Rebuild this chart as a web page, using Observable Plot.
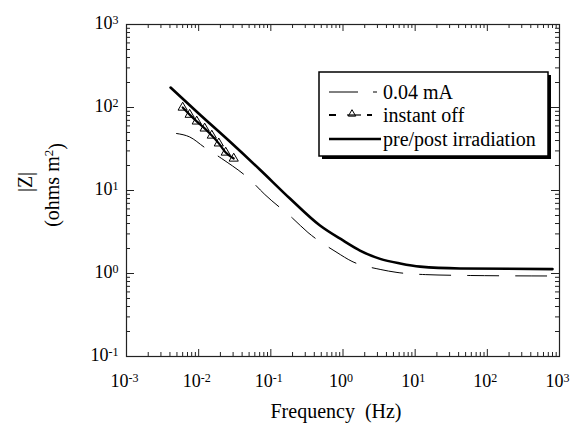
<!DOCTYPE html>
<html><head><meta charset="utf-8">
<script src="https://cdn.jsdelivr.net/npm/d3@7"></script>
<script src="https://cdn.jsdelivr.net/npm/@observablehq/plot@0.6"></script>
<style>
body{margin:0;background:#fff}
</style>
</head><body><div id="chart"></div>
<script>
// pre/post irradiation (solid thick)
const freqPre = [0.00408, 0.01, 0.027, 0.0703, 0.184, 0.48, 1.0, 1.72, 3.27, 6.2, 11.7, 42, 800];
const zPre    = [174, 84.7, 38.9, 17.9, 8.0, 3.78, 2.50, 1.89, 1.50, 1.32, 1.21, 1.15, 1.13];
// 0.04 mA (thin long dash)
const freq04 = [0.00494, 0.0075, 0.0121, 0.0208, 0.051, 0.0826, 0.202, 0.327, 0.826, 1.33, 3.27, 5.6, 13.8, 58, 800];
const z04    = [48.6, 44.2, 33.0, 24.3, 13.6, 8.95, 4.60, 3.12, 1.79, 1.40, 1.12, 1.03, 0.97, 0.946, 0.933];
// instant off (triangles)
const freqOff = [0.0060, 0.0075, 0.0094, 0.0121, 0.0152, 0.0190, 0.0237, 0.0306];
const zOff    = [100, 82, 68, 56, 46, 37, 28.7, 24.3];
// ticks
const xMajor = [1e-3, 1e-2, 1e-1, 1, 10, 100, 1000];
const yMajor = [0.1, 1, 10, 100, 1000];
const xMinor = xMajor.slice(0, -1).flatMap(d => [2,3,4,5,6,7,8,9].map(k => k * d));
const yMinor = yMajor.slice(0, -1).flatMap(d => [2,3,4,5,6,7,8,9].map(k => k * d));
const legendLabels = ["0.04 mA", "instant off", "pre/post irradiation"];
const xTitle = "Frequency  (Hz)";
const yTitle1 = "|Z|";
const yTitle2 = ["(ohms m", "2", ")"];

const pre = freqPre.map((f, i) => ({f, z: zPre[i]}));
const ma = freq04.map((f, i) => ({f, z: z04[i]}));
const off = freqOff.map((f, i) => ({f, z: zOff[i]}));

const FONT = "'Liberation Serif', 'Times New Roman', serif";
const W = 433, H = 332; // frame size
const chart = Plot.plot({
  width: 579, height: 426,
  marginLeft: 126, marginRight: 20, marginTop: 24, marginBottom: 70,
  style: {fontSize: "18px", background: "white", color: "black", fontFamily: FONT},
  x: {type: "log", domain: [1e-3, 1e3], axis: null},
  y: {type: "log", domain: [0.1, 1e3], axis: null},
  marks: [
    Plot.tickX(xMajor, {x: d => d, insetTop: H - 7, stroke: "#222"}),
    Plot.tickX(xMajor, {x: d => d, insetBottom: H - 7, stroke: "#222"}),
    Plot.tickX(xMinor, {x: d => d, insetTop: H - 4, stroke: "#222"}),
    Plot.tickX(xMinor, {x: d => d, insetBottom: H - 4, stroke: "#222"}),
    Plot.tickY(yMajor, {y: d => d, insetRight: W - 8, stroke: "#222"}),
    Plot.tickY(yMajor, {y: d => d, insetLeft: W - 8, stroke: "#222"}),
    Plot.tickY(yMinor, {y: d => d, insetRight: W - 4, stroke: "#222"}),
    Plot.tickY(yMinor, {y: d => d, insetLeft: W - 4, stroke: "#222"}),
    Plot.frame({stroke: "#222", strokeWidth: 1.2}),
    Plot.text(xMajor, {x: d => d, y: () => 0.1, text: d => `10^${Math.round(Math.log10(d))}`, dy: 25, dx: -2, fontSize: 18}),
    Plot.text(yMajor, {x: () => 1e-3, y: d => d, text: d => `10^${Math.round(Math.log10(d))}`, textAnchor: "end", dx: -8, dy: -1, fontSize: 18}),
    Plot.line(ma, {x: "f", y: "z", stroke: "black", strokeWidth: 1, strokeDasharray: "31,17", curve: "monotone-x"}),
    Plot.line(off, {x: "f", y: "z", stroke: "black", strokeWidth: 2.2, curve: "monotone-x"}),
    Plot.dot(off, {x: "f", y: "z", symbol: "triangle", r: 3.4, stroke: "black", fill: "none", strokeWidth: 1}),
    Plot.line(pre, {x: "f", y: "z", stroke: "black", strokeWidth: 2.6, curve: "monotone-x"})
  ]
});
document.getElementById("chart").appendChild(chart);

const svg = d3.select(chart);
// superscript tick labels
svg.selectAll("text").each(function() {
  const t = d3.select(this);
  t.style("font-family", FONT);
  if (t.selectAll("tspan").size()) return;
  const s = t.text();
  const i = s.indexOf("^");
  if (i < 0) return;
  t.text(null);
  t.append("tspan").text(s.slice(0, i));
  t.append("tspan").attr("dy", "-0.45em").attr("font-size", "12px").text(s.slice(i + 1));
});

// axis titles
const txt = (x, y, rot) => svg.append("text")
  .attr("transform", `translate(${x},${y})${rot ? " rotate(-90)" : ""}`)
  .attr("text-anchor", "middle").attr("dy", "0.35em")
  .style("font-family", FONT).attr("font-size", "20px").attr("fill", "black");
txt(336, 411, false).text(xTitle);
txt(25, 182, true).text(yTitle1);
const t2 = txt(52, 185, true);
t2.append("tspan").text(yTitle2[0]);
t2.append("tspan").attr("dy", "-0.5em").attr("font-size", "13px").text(yTitle2[1]);
t2.append("tspan").attr("dy", "0.5em").text(yTitle2[2]);

// legend
const lg = svg.append("g");
lg.append("rect").attr("x", 322).attr("y", 75).attr("width", 229).attr("height", 84).attr("fill", "black");
lg.append("rect").attr("x", 319).attr("y", 72).attr("width", 229).attr("height", 84).attr("fill", "white").attr("stroke", "black").attr("stroke-width", 1.5);
const rows = [92, 115, 139];
lg.append("line").attr("x1", 329).attr("x2", 358).attr("y1", rows[0]).attr("y2", rows[0]).attr("stroke", "black").attr("stroke-width", 1);
lg.append("line").attr("x1", 373).attr("x2", 377).attr("y1", rows[0]).attr("y2", rows[0]).attr("stroke", "black").attr("stroke-width", 1);
lg.append("line").attr("x1", 329).attr("x2", 336).attr("y1", rows[1]).attr("y2", rows[1]).attr("stroke", "black").attr("stroke-width", 2);
lg.append("line").attr("x1", 347).attr("x2", 361).attr("y1", rows[1]).attr("y2", rows[1]).attr("stroke", "black").attr("stroke-width", 1.2);
lg.append("path").attr("d", d3.symbol(d3.symbolTriangle, 24)()).attr("transform", `translate(352,${rows[1] - 1})`).attr("fill", "none").attr("stroke", "black").attr("stroke-width", 1);
lg.append("line").attr("x1", 367).attr("x2", 372).attr("y1", rows[1]).attr("y2", rows[1]).attr("stroke", "black").attr("stroke-width", 2);
lg.append("line").attr("x1", 329).attr("x2", 381).attr("y1", rows[2]).attr("y2", rows[2]).attr("stroke", "black").attr("stroke-width", 2.4);
legendLabels.forEach((s, i) => {
  lg.append("text").attr("x", 383).attr("y", rows[i]).attr("dy", "0.35em")
    .attr("text-anchor", "start").style("font-family", FONT).attr("font-size", "20px").attr("fill", "black").text(s);
});
</script>
</body></html>
